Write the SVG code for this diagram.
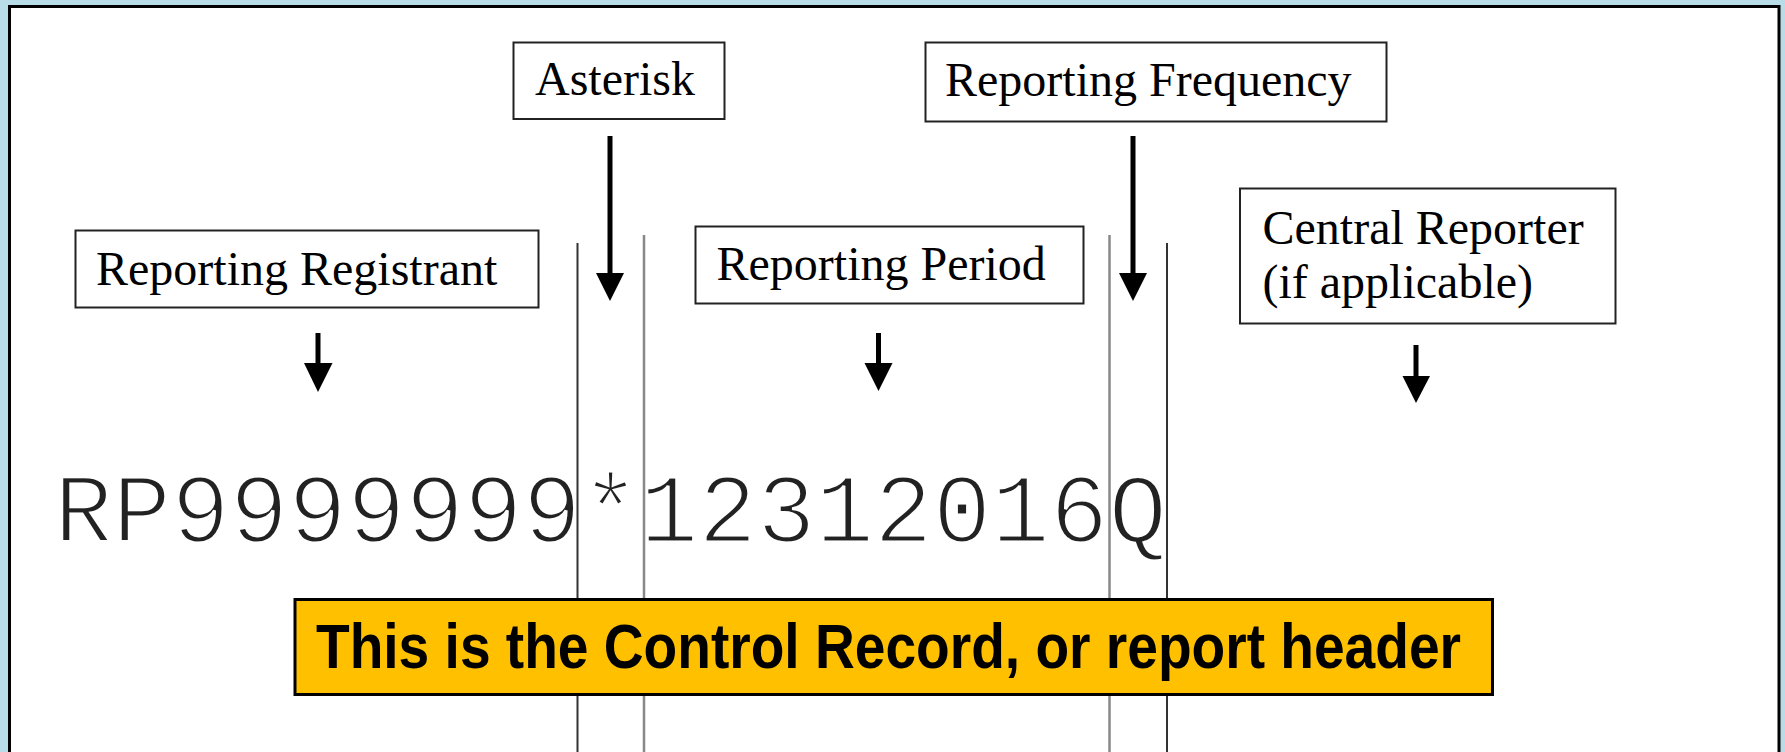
<svg xmlns="http://www.w3.org/2000/svg" width="1785" height="752" viewBox="0 0 1785 752">
<defs>
<style>
.box{fill:#fff;stroke:#222;stroke-width:2}
.lbl{font-family:"Liberation Serif","Times New Roman",serif;font-size:48px;fill:#000}
.sep{stroke:#333;stroke-width:2}
.sep2{stroke:#888;stroke-width:2.5}
.shaft{stroke:#000;stroke-width:5;fill:none}
.head{fill:#000}
</style>
</defs>
<rect x="0" y="0" width="1785" height="752" fill="#b8dde8"/>
<rect x="9.5" y="6.5" width="1769.5" height="760" fill="#fff" stroke="#000" stroke-width="3"/>

<g id="record">
<text x="54" y="541.5" font-family="'Liberation Mono','Courier New',monospace" font-size="97.7" fill="#222" stroke="#fff" stroke-width="3" textLength="1113" lengthAdjust="spacingAndGlyphs">RP9999999*12312016Q</text>
</g>

<g id="connectors">
<line class="sep" x1="577.5" y1="243" x2="577.5" y2="752"/>
<line class="sep2" x1="644" y1="235" x2="644" y2="752"/>
<line class="sep2" x1="1109.5" y1="235" x2="1109.5" y2="752"/>
<line class="sep" x1="1167" y1="243" x2="1167" y2="752"/>
<line class="shaft" x1="318" y1="333" x2="318" y2="366"/>
<polygon class="head" points="304,363 332.5,363 318,392"/>
<line class="shaft" x1="610" y1="136" x2="610" y2="276"/>
<polygon class="head" points="596,273 624,273 610,301"/>
<line class="shaft" x1="878.5" y1="333" x2="878.5" y2="366"/>
<polygon class="head" points="864.5,363 892.5,363 878.5,391"/>
<line class="shaft" x1="1133" y1="136" x2="1133" y2="276"/>
<polygon class="head" points="1119,273 1147,273 1133,301"/>
<line class="shaft" x1="1416" y1="345" x2="1416" y2="379"/>
<polygon class="head" points="1402.5,376 1430,376 1416,403"/>
</g>

<g id="asterisk">
<rect class="box" x="513.5" y="42.5" width="211" height="76.5"/>
<text class="lbl" x="535" y="95">Asterisk</text>
</g>
<g id="reporting-frequency">
<rect class="box" x="925.5" y="42.5" width="461" height="79"/>
<text class="lbl" x="945" y="96">Reporting Frequency</text>
</g>
<g id="reporting-registrant">
<rect class="box" x="75.5" y="230.5" width="463" height="77"/>
<text class="lbl" x="96" y="285">Reporting Registrant</text>
</g>
<g id="reporting-period">
<rect class="box" x="695.5" y="226.5" width="388" height="77"/>
<text class="lbl" x="716.5" y="280">Reporting Period</text>
</g>
<g id="central-reporter">
<rect class="box" x="1240" y="188.5" width="375.5" height="135"/>
<text class="lbl" x="1262.5" y="244">Central Reporter</text>
<text class="lbl" x="1262.5" y="297.5">(if applicable)</text>
</g>
<g id="note">
<rect x="295" y="599.5" width="1197.5" height="95" fill="#ffc000" stroke="#000" stroke-width="3"/>
<text x="316" y="668" font-family="'Liberation Sans',Arial,sans-serif" font-weight="bold" font-size="63" fill="#000" textLength="1145" lengthAdjust="spacingAndGlyphs">This is the Control Record, or report header</text>
</g>
</svg>
